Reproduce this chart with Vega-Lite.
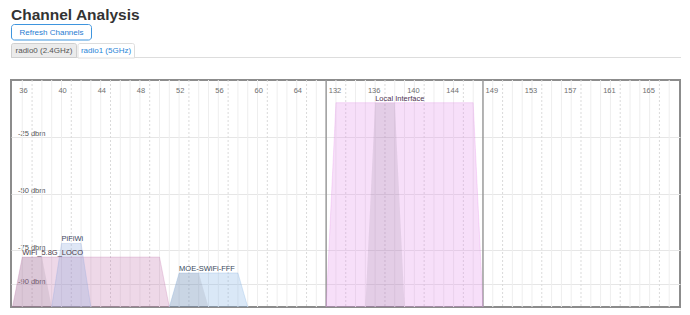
{
  "$schema": "https://vega.github.io/schema/vega-lite/v6.json",
  "background": "white",
  "padding": {"left": 10, "top": 0, "right": 0, "bottom": 0},
  "spacing": 0,
  "config": {"view": {"stroke": null}, "font": "Liberation Sans"},
  "resolve": {"scale": {"x": "independent", "y": "independent", "color": "independent"}},
  "datasets": {
    "vlines": [
      {"channel": 35, "slot": -1, "kind": "minor"},
      {"channel": 36, "slot": 0, "kind": "dash"},
      {"channel": 37, "slot": 1, "kind": "minor"},
      {"channel": 38, "slot": 2, "kind": "minor"},
      {"channel": 39, "slot": 3, "kind": "minor"},
      {"channel": 40, "slot": 4, "kind": "dash"},
      {"channel": 41, "slot": 5, "kind": "minor"},
      {"channel": 42, "slot": 6, "kind": "minor"},
      {"channel": 43, "slot": 7, "kind": "minor"},
      {"channel": 44, "slot": 8, "kind": "dash"},
      {"channel": 45, "slot": 9, "kind": "minor"},
      {"channel": 46, "slot": 10, "kind": "minor"},
      {"channel": 47, "slot": 11, "kind": "minor"},
      {"channel": 48, "slot": 12, "kind": "dash"},
      {"channel": 49, "slot": 13, "kind": "minor"},
      {"channel": 50, "slot": 14, "kind": "minor"},
      {"channel": 51, "slot": 15, "kind": "minor"},
      {"channel": 52, "slot": 16, "kind": "dash"},
      {"channel": 53, "slot": 17, "kind": "minor"},
      {"channel": 54, "slot": 18, "kind": "minor"},
      {"channel": 55, "slot": 19, "kind": "minor"},
      {"channel": 56, "slot": 20, "kind": "dash"},
      {"channel": 57, "slot": 21, "kind": "minor"},
      {"channel": 58, "slot": 22, "kind": "minor"},
      {"channel": 59, "slot": 23, "kind": "minor"},
      {"channel": 60, "slot": 24, "kind": "dash"},
      {"channel": 61, "slot": 25, "kind": "minor"},
      {"channel": 62, "slot": 26, "kind": "minor"},
      {"channel": 63, "slot": 27, "kind": "minor"},
      {"channel": 64, "slot": 28, "kind": "dash"},
      {"channel": 65, "slot": 29, "kind": "minor"},
      {"channel": 130, "slot": 30, "kind": "bound"},
      {"channel": 131, "slot": 31, "kind": "minor"},
      {"channel": 132, "slot": 32, "kind": "dash"},
      {"channel": 133, "slot": 33, "kind": "minor"},
      {"channel": 134, "slot": 34, "kind": "minor"},
      {"channel": 135, "slot": 35, "kind": "minor"},
      {"channel": 136, "slot": 36, "kind": "dash"},
      {"channel": 137, "slot": 37, "kind": "minor"},
      {"channel": 138, "slot": 38, "kind": "minor"},
      {"channel": 139, "slot": 39, "kind": "minor"},
      {"channel": 140, "slot": 40, "kind": "dash"},
      {"channel": 141, "slot": 41, "kind": "minor"},
      {"channel": 142, "slot": 42, "kind": "minor"},
      {"channel": 143, "slot": 43, "kind": "minor"},
      {"channel": 144, "slot": 44, "kind": "dash"},
      {"channel": 145, "slot": 45, "kind": "minor"},
      {"channel": 147, "slot": 46, "kind": "bound"},
      {"channel": 148, "slot": 47, "kind": "minor"},
      {"channel": 149, "slot": 48, "kind": "dash"},
      {"channel": 150, "slot": 49, "kind": "minor"},
      {"channel": 151, "slot": 50, "kind": "minor"},
      {"channel": 152, "slot": 51, "kind": "minor"},
      {"channel": 153, "slot": 52, "kind": "dash"},
      {"channel": 154, "slot": 53, "kind": "minor"},
      {"channel": 155, "slot": 54, "kind": "minor"},
      {"channel": 156, "slot": 55, "kind": "minor"},
      {"channel": 157, "slot": 56, "kind": "dash"},
      {"channel": 158, "slot": 57, "kind": "minor"},
      {"channel": 159, "slot": 58, "kind": "minor"},
      {"channel": 160, "slot": 59, "kind": "minor"},
      {"channel": 161, "slot": 60, "kind": "dash"},
      {"channel": 162, "slot": 61, "kind": "minor"},
      {"channel": 163, "slot": 62, "kind": "minor"},
      {"channel": 164, "slot": 63, "kind": "minor"},
      {"channel": 165, "slot": 64, "kind": "dash"},
      {"channel": 166, "slot": 65, "kind": "minor"}
    ],
    "polys": [
      {"id": "loco80", "slot": -2, "dbm": -100},
      {"id": "loco80", "slot": -1, "dbm": -78},
      {"id": "loco80", "slot": 13, "dbm": -78},
      {"id": "loco80", "slot": 14, "dbm": -100},
      {"id": "pifi20", "slot": 2, "dbm": -100},
      {"id": "pifi20", "slot": 3, "dbm": -72},
      {"id": "pifi20", "slot": 5, "dbm": -72},
      {"id": "pifi20", "slot": 6, "dbm": -100},
      {"id": "moe40", "slot": 14, "dbm": -100},
      {"id": "moe40", "slot": 15, "dbm": -85},
      {"id": "moe40", "slot": 21, "dbm": -85},
      {"id": "moe40", "slot": 22, "dbm": -100},
      {"id": "local80", "slot": 30, "dbm": -100},
      {"id": "local80", "slot": 31, "dbm": -10},
      {"id": "local80", "slot": 45, "dbm": -10},
      {"id": "local80", "slot": 46, "dbm": -100}
    ],
    "primaries": [
      {"id": "loco20", "slot": -2, "dbm": -100},
      {"id": "loco20", "slot": -1, "dbm": -78},
      {"id": "loco20", "slot": 1, "dbm": -78},
      {"id": "loco20", "slot": 2, "dbm": -100},
      {"id": "moe20", "slot": 14, "dbm": -100},
      {"id": "moe20", "slot": 15, "dbm": -85},
      {"id": "moe20", "slot": 17, "dbm": -85},
      {"id": "moe20", "slot": 18, "dbm": -100},
      {"id": "local20", "slot": 34, "dbm": -100},
      {"id": "local20", "slot": 35, "dbm": -10},
      {"id": "local20", "slot": 37, "dbm": -10},
      {"id": "local20", "slot": 38, "dbm": -100}
    ],
    "labels": [
      {"id": "loco80", "ssid": "WiFi_5.8G_LOCO", "slot": -1, "dbm": -78},
      {"id": "pifi20", "ssid": "PiFiWi", "slot": 3, "dbm": -72},
      {"id": "moe40", "ssid": "MOE-SWiFi-FFF", "slot": 15, "dbm": -85},
      {"id": "local80", "ssid": "Local Interface", "slot": 35, "dbm": -10}
    ],
    "channels": [
      {"channel": 36, "slot": 0}, {"channel": 40, "slot": 4}, {"channel": 44, "slot": 8},
      {"channel": 48, "slot": 12}, {"channel": 52, "slot": 16}, {"channel": 56, "slot": 20},
      {"channel": 60, "slot": 24}, {"channel": 64, "slot": 28}, {"channel": 132, "slot": 32},
      {"channel": 136, "slot": 36}, {"channel": 140, "slot": 40}, {"channel": 144, "slot": 44},
      {"channel": 149, "slot": 48}, {"channel": 153, "slot": 52}, {"channel": 157, "slot": 56},
      {"channel": 161, "slot": 60}, {"channel": 165, "slot": 64}
    ]
  },
  "vconcat": [
    {
      "width": 669,
      "height": 78,
      "data": {"values": [{}]},
      "layer": [
        {
          "mark": {"type": "text", "text": "Channel Analysis", "align": "left", "baseline": "alphabetic", "fontSize": 15.5, "fontWeight": "bold", "color": "#333333", "font": "Liberation Sans"},
          "encoding": {
            "x": {"datum": 0, "type": "quantitative", "scale": {"domain": [0, 669], "nice": false, "zero": false}, "axis": null},
            "y": {"datum": 19.5, "type": "quantitative", "scale": {"domain": [0, 78], "nice": false, "zero": false, "reverse": true}, "axis": null}
          }
        },
        {
          "mark": {"type": "rect", "fill": "white", "stroke": "#3e95de", "strokeWidth": 1, "cornerRadius": 3},
          "encoding": {
            "x": {"datum": 0.5, "type": "quantitative"},
            "x2": {"datum": 80.5},
            "y": {"datum": 24.5, "type": "quantitative"},
            "y2": {"datum": 40}
          }
        },
        {
          "mark": {"type": "text", "text": "Refresh Channels", "align": "center", "baseline": "middle", "fontSize": 8, "color": "#1f7bd1", "font": "Liberation Sans"},
          "encoding": {
            "x": {"datum": 40.5, "type": "quantitative"},
            "y": {"datum": 32.5, "type": "quantitative"}
          }
        },
        {
          "mark": {"type": "rule", "stroke": "#dddddd", "strokeWidth": 1},
          "encoding": {
            "x": {"datum": 0, "type": "quantitative"},
            "x2": {"datum": 670},
            "y": {"datum": 57.5, "type": "quantitative"}
          }
        },
        {
          "mark": {"type": "rect", "fill": "#ebebeb", "stroke": "#cfcfcf", "strokeWidth": 1, "cornerRadiusTopLeft": 2, "cornerRadiusTopRight": 2},
          "encoding": {
            "x": {"datum": 0.5, "type": "quantitative"},
            "x2": {"datum": 65.5},
            "y": {"datum": 43.5, "type": "quantitative"},
            "y2": {"datum": 57.5}
          }
        },
        {
          "mark": {"type": "text", "text": "radio0 (2.4GHz)", "align": "center", "baseline": "middle", "fontSize": 8, "color": "#555555", "font": "Liberation Sans"},
          "encoding": {
            "x": {"datum": 33, "type": "quantitative"},
            "y": {"datum": 50.5, "type": "quantitative"}
          }
        },
        {
          "mark": {"type": "rect", "fill": "white", "stroke": "#dddddd", "strokeWidth": 1, "cornerRadiusTopLeft": 2, "cornerRadiusTopRight": 2},
          "encoding": {
            "x": {"datum": 67, "type": "quantitative"},
            "x2": {"datum": 123.5},
            "y": {"datum": 43.5, "type": "quantitative"},
            "y2": {"datum": 58}
          }
        },
        {
          "mark": {"type": "text", "text": "radio1 (5GHz)", "align": "center", "baseline": "middle", "fontSize": 8, "color": "#2a86d8", "font": "Liberation Sans"},
          "encoding": {
            "x": {"datum": 95, "type": "quantitative"},
            "y": {"datum": 50.5, "type": "quantitative"}
          }
        }
      ]
    },
    {
      "width": 669,
      "height": 227,
      "view": {"stroke": "#8c8c8c", "strokeWidth": 2},
      "encoding": {
        "x": {"field": "slot", "type": "quantitative", "scale": {"domain": [-2.15, 66.1], "nice": false, "zero": false}, "axis": null}
      },
      "layer": [
        {
          "data": {"name": "vlines"},
          "transform": [{"filter": "datum.kind === 'minor'"}],
          "mark": {"type": "rule", "stroke": "#eeeeee", "strokeWidth": 1},
          "encoding": {}
        },
        {
          "data": {"name": "vlines"},
          "transform": [{"filter": "datum.kind === 'dash'"}],
          "mark": {"type": "rule", "stroke": "#dadada", "strokeWidth": 1, "strokeDash": [2, 2]},
          "encoding": {}
        },
        {
          "data": {"name": "vlines"},
          "transform": [{"filter": "datum.kind === 'bound'"}],
          "mark": {"type": "rule", "stroke": "#9a9a9a", "strokeWidth": 1.5},
          "encoding": {}
        },
        {
          "data": {"name": "polys"},
          "mark": {"type": "area", "fillOpacity": 0.28, "line": {"strokeWidth": 0.6, "strokeOpacity": 0.45}},
          "encoding": {
            "y": {"field": "dbm", "type": "quantitative",
              "scale": {"domain": [-100, 0], "nice": false, "zero": false},
              "axis": {"values": [-25, -50, -75, -90], "labelExpr": "datum.value + ' dbm'", "ticks": false, "tickSize": 0, "domain": false, "grid": true, "gridColor": "#e6e6e6", "labelAlign": "left", "labelPadding": -6.5, "labelBaseline": "alphabetic", "labelOffset": -1, "labelFont": "Liberation Sans", "labelFontSize": 7.5, "labelColor": "#555555", "title": null}},
            "y2": {"datum": -100},
            "color": {"field": "id", "type": "nominal", "legend": null,
              "scale": {"domain": ["loco80", "pifi20", "moe40", "local80"], "range": ["#c274ae", "#8aa6dc", "#7baee2", "#e38ce9"]}},
            "detail": {"field": "id"}
          }
        },
        {
          "data": {"name": "primaries"},
          "mark": {"type": "area", "color": "#3c2f44", "fillOpacity": 0.1},
          "encoding": {
            "y": {"field": "dbm", "type": "quantitative"},
            "y2": {"datum": -100},
            "detail": {"field": "id"}
          }
        },
        {
          "data": {"name": "labels"},
          "mark": {"type": "text", "align": "left", "baseline": "alphabetic", "dy": -2, "fontSize": 7.5, "font": "Liberation Sans"},
          "encoding": {
            "y": {"field": "dbm", "type": "quantitative"},
            "text": {"field": "ssid"},
            "color": {"field": "id", "type": "nominal", "legend": null,
              "scale": {"domain": ["loco80", "pifi20", "moe40", "local80"], "range": ["#4b3a48", "#3b4660", "#394a5c", "#4f3453"]}}
          }
        },
        {
          "data": {"name": "channels"},
          "mark": {"type": "text", "align": "right", "baseline": "alphabetic", "dx": -4.5, "dy": 12.5, "fontSize": 7.5, "color": "#707070", "font": "Liberation Sans"},
          "encoding": {
            "y": {"datum": 0, "type": "quantitative"},
            "text": {"field": "channel"}
          }
        }
      ],
      "resolve": {"scale": {"color": "independent"}}
    }
  ]
}
